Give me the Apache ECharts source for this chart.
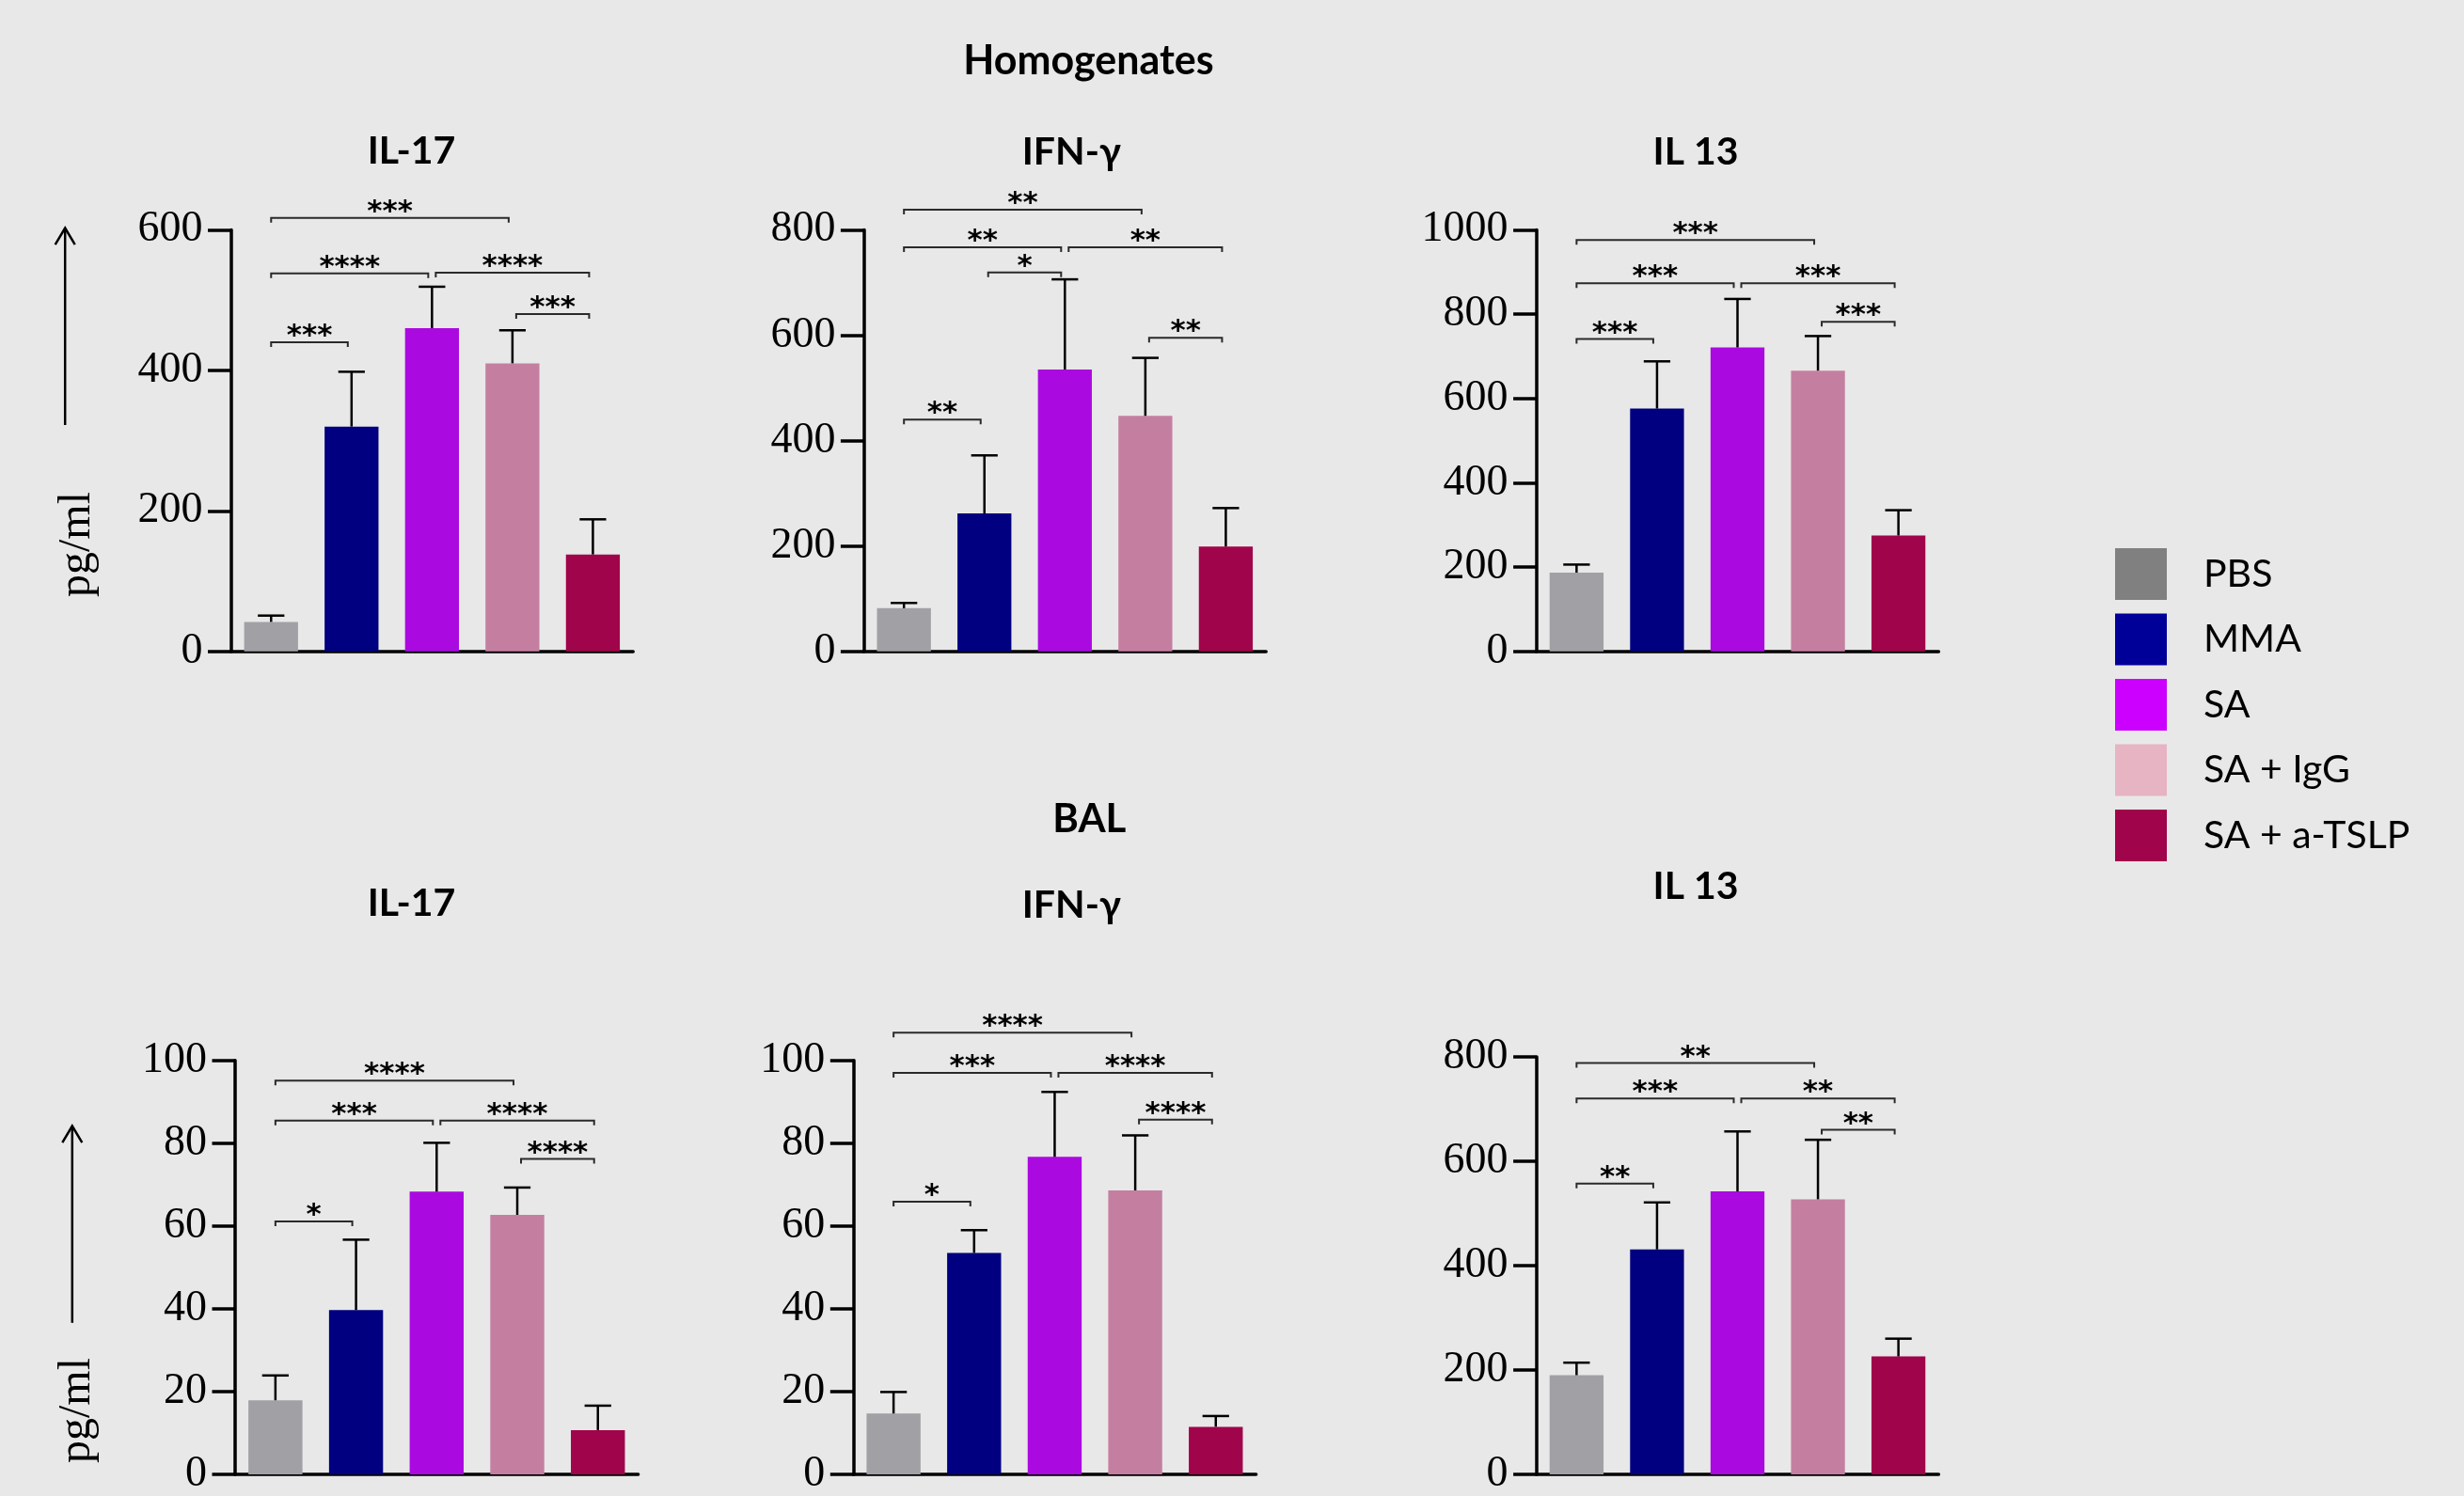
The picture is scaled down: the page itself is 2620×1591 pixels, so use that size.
<!DOCTYPE html>
<html>
<head>
<meta charset="utf-8">
<script src="https://cdn.jsdelivr.net/npm/echarts@6/dist/echarts.min.js"></script>
<style>
html,body{margin:0;padding:0;background:#e8e8e8;}
#chart{width:2620px;height:1591px;}
</style>
</head>
<body>
<div id="chart"></div>
<script>
// ---------------- data ----------------
var categories = ['PBS', 'MMA', 'SA', 'SA + IgG', 'SA + a-TSLP'];

var homIL17Mean = [42, 320, 460, 410, 138];
var homIL17Err  = [9, 78, 59, 47, 50];
var homIFNMean  = [82, 262, 535, 447, 199];
var homIFNErr   = [10, 110, 171, 110, 73];
var homIL13Mean = [187, 576, 721, 666, 275];
var homIL13Err  = [19, 112, 115, 82, 60];

var balIL17Mean = [17.9, 39.7, 68.3, 62.7, 10.7];
var balIL17Err  = [6, 17, 11.8, 6.6, 5.9];
var balIFNMean  = [14.7, 53.5, 76.7, 68.6, 11.5];
var balIFNErr   = [5.2, 5.5, 15.7, 13.3, 2.6];
var balIL13Mean = [190, 431, 542, 527, 226];
var balIL13Err  = [24, 90, 115, 114, 34];

// significance brackets: [from group, to group, height (data units), label]
var homIL17Sig = [[0,3,617,'***'],[0,2,538,'****'],[2,4,539,'****'],[0,1,440,'***'],[3,4,480,'***']];
var homIFNSig  = [[0,3,838,'**'],[0,2,767,'**'],[2,4,767,'**'],[1,2,719,'*'],[3,4,595,'**'],[0,1,440,'**']];
var homIL13Sig = [[0,3,976,'***'],[0,2,873,'***'],[2,4,873,'***'],[0,1,741,'***'],[3,4,782,'***']];
var balIL17Sig = [[0,3,95.1,'****'],[0,2,85.5,'***'],[2,4,85.5,'****'],[0,1,61.1,'*'],[3,4,76.2,'****']];
var balIFNSig  = [[0,3,106.7,'****'],[0,2,97,'***'],[2,4,97,'****'],[0,1,65.9,'*'],[3,4,85.7,'****']];
var balIL13Sig = [[0,3,788,'**'],[0,2,720,'***'],[2,4,720,'**'],[0,1,557,'**'],[3,4,660,'**']];

var panelTitles = ['IL-17', 'IFN-\u03b3', 'IL 13', 'IL-17', 'IFN-\u03b3', 'IL 13'];
var yMax      = [600, 800, 1000, 100, 100, 800];
var yInterval = [200, 200, 200, 20, 20, 200];

// ---------------- styles ----------------
var barColors    = ['#a0a0a5', '#000080', '#aa0ae0', '#c47fa0', '#a0044a'];
var legendColors = ['#808080', '#000099', '#cc00ff', '#e6b4c2', '#a0044a'];

var panels = [
  {mean: homIL17Mean, err: homIL17Err, sig: homIL17Sig},
  {mean: homIFNMean,  err: homIFNErr,  sig: homIFNSig},
  {mean: homIL13Mean, err: homIL13Err, sig: homIL13Sig},
  {mean: balIL17Mean, err: balIL17Err, sig: balIL17Sig},
  {mean: balIFNMean,  err: balIFNErr,  sig: balIFNSig},
  {mean: balIL13Mean, err: balIL13Err, sig: balIL13Sig}
];

var grids = [
  {left: 245.5,  top: 244.4,  width: 427.7, height: 448.4},
  {left: 918.4,  top: 244.4,  width: 427.8, height: 448.4},
  {left: 1633.6, top: 244.4,  width: 427.8, height: 448.4},
  {left: 250,    top: 1127.8, width: 428.6, height: 447.3},
  {left: 907.3,  top: 1127.8, width: 428.3, height: 447.3},
  {left: 1633.6, top: 1123.9, width: 427.8, height: 448.6}
];
var titlePos = [[437.5,161],[1139.3,162],[1803,162],[437.5,961],[1139.3,963],[1803,943]];

var xAxes = [], yAxes = [], series = [];
panels.forEach(function (p, pi) {
  xAxes.push({
    type: 'category', gridIndex: pi, data: categories,
    axisLine: {show: true, lineStyle: {color: '#000', width: 3.5}},
    axisTick: {show: false}, axisLabel: {show: false}, splitLine: {show: false}
  });
  yAxes.push({
    type: 'value', gridIndex: pi, min: 0, max: yMax[pi], interval: yInterval[pi],
    axisLine: {show: true, lineStyle: {color: '#000', width: 3.5}},
    axisTick: {show: true, length: 24.5, lineStyle: {color: '#000', width: 3.5}},
    axisLabel: {fontFamily: 'Liberation Serif', fontSize: 46, color: '#000', margin: 30,
                formatter: function (v) { return String(v); }},
    splitLine: {show: false}
  });
  categories.forEach(function (c, gi) {
    var d = categories.map(function (_, k) { return k === gi ? p.mean[k] : '-'; });
    series.push({
      type: 'bar', name: c, xAxisIndex: pi, yAxisIndex: pi, stack: 'panel' + pi,
      barWidth: '67%', data: d, itemStyle: {color: barColors[gi]}, z: 2
    });
  });
  // error bars
  series.push({
    type: 'custom', xAxisIndex: pi, yAxisIndex: pi, clip: false, z: 3,
    data: p.mean.map(function (m, k) { return [k, m, m + p.err[k]]; }),
    encode: {x: 0, y: 2},
    renderItem: function (params, api) {
      var g = api.value(0), m = api.value(1), u = api.value(2);
      var p0 = api.coord([g, m]), p1 = api.coord([g, u]);
      var cw = api.size([1, 0])[0] * 0.33;
      return {type: 'group', children: [
        {type: 'line', shape: {x1: p0[0], y1: p0[1], x2: p1[0], y2: p1[1]}, style: {stroke: '#000', lineWidth: 2.5}},
        {type: 'line', shape: {x1: p1[0] - cw / 2, y1: p1[1], x2: p1[0] + cw / 2, y2: p1[1]}, style: {stroke: '#000', lineWidth: 2.5}}
      ]};
    }
  });
  // significance brackets
  (function (sig) {
    series.push({
      type: 'custom', xAxisIndex: pi, yAxisIndex: pi, clip: false, z: 4,
      data: sig.map(function (s) { return [s[0], s[1], s[2]]; }),
      encode: {x: [0, 1], y: 2},
      renderItem: function (params, api) {
        var i = api.value(0), j = api.value(1), yv = api.value(2);
        var a = api.coord([i, yv]), b = api.coord([j, yv]);
        var x1 = a[0] + (i > 0 ? 4 : 0), x2 = b[0] - 4, y = a[1];
        var label = sig[params.dataIndex][3];
        return {type: 'group', children: [
          {type: 'polyline', shape: {points: [[x1, y + 5], [x1, y], [x2, y], [x2, y + 5]]},
           style: {stroke: '#2a2a2a', lineWidth: 2, fill: null}},
          {type: 'text', x: (x1 + x2) / 2, y: y - 6,
           style: {text: label, align: 'center', verticalAlign: 'middle',
                   font: 'bold 31px "DejaVu Sans"', fill: '#000'}}
        ]};
      }
    });
  })(p.sig);
});

var graphics = [];
function addText(txt, x, y, font, rot) {
  graphics.push({type: 'text', x: x, y: y, rotation: rot || 0,
    style: {text: txt, align: 'center', verticalAlign: 'middle', font: font, fill: '#000'}});
}
addText('Homogenates', 1157.5, 65, 'bold 43px Lato');
addText('BAL', 1158.3, 871, 'bold 42px Lato');
panelTitles.forEach(function (t, i) { addText(t, titlePos[i][0], titlePos[i][1], 'bold 41px Lato'); });
addText('pg/ml', 82.6, 579, '48px "Liberation Serif"', Math.PI / 2);
addText('pg/ml', 82.6, 1500, '48px "Liberation Serif"', Math.PI / 2);
function addArrow(x, yTop, yBot) {
  graphics.push({type: 'line', shape: {x1: x, y1: yTop, x2: x, y2: yBot}, style: {stroke: '#000', lineWidth: 2.5}});
  graphics.push({type: 'polyline', shape: {points: [[x - 10.5, yTop + 17.6], [x, yTop], [x + 10.5, yTop + 17.6]]},
    style: {stroke: '#000', lineWidth: 2.5, fill: null}});
}
addArrow(69.2, 242.5, 452);
addArrow(76.8, 1197.5, 1406.8);

var option = {
  backgroundColor: '#e8e8e8',
  animation: false,
  grid: grids,
  xAxis: xAxes,
  yAxis: yAxes,
  legend: {
    orient: 'vertical', left: 2244, top: 578,
    itemWidth: 55, itemHeight: 55, itemGap: 14.5, icon: 'rect',
    selectedMode: false,
    textStyle: {fontFamily: 'Lato', fontSize: 41, color: '#000', padding: [6, 0, 0, 34]},
    data: categories.map(function (c, i) { return {name: c, itemStyle: {color: legendColors[i], borderWidth: 0}}; })
  },
  graphic: graphics,
  series: series
};

var chart = echarts.init(document.getElementById('chart'), null, {renderer: 'canvas'});
chart.setOption(option);
</script>
</body>
</html>
